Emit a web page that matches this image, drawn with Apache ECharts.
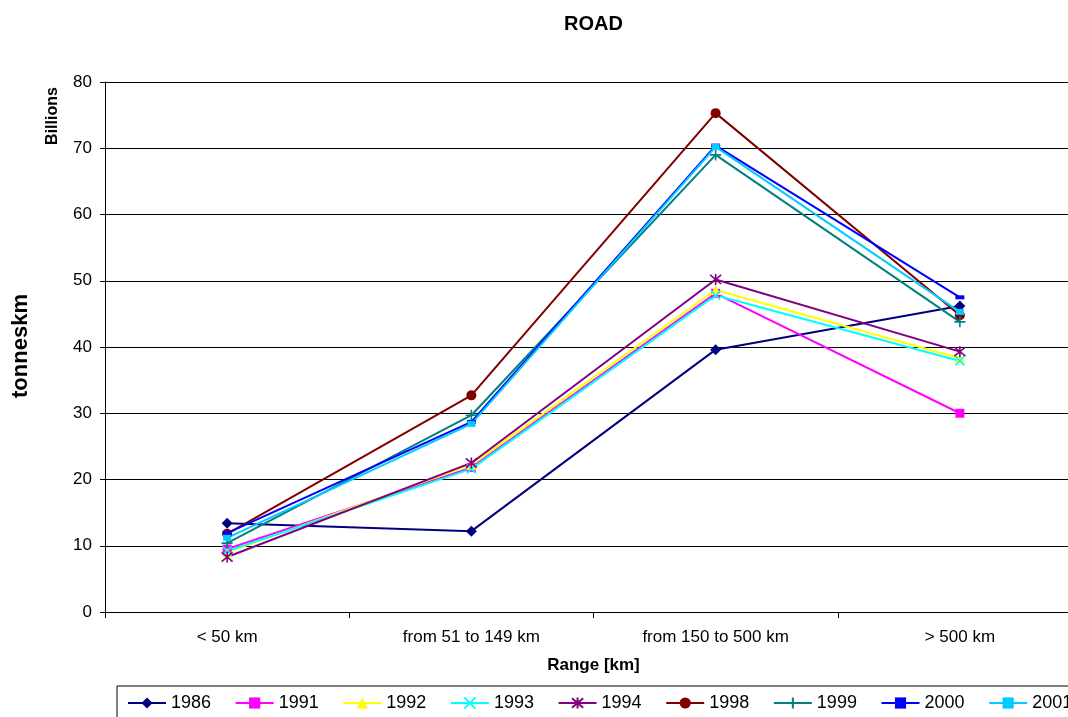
<!DOCTYPE html>
<html>
<head>
<meta charset="utf-8">
<script src="https://cdn.jsdelivr.net/npm/echarts@6/dist/echarts.min.js"></script>
<style>
  html, body { margin: 0; padding: 0; background: #fff; }
  #chart { width: 1068px; height: 717px; }
</style>
</head>
<body>
<div id="chart"></div>
<script>
// Road freight by distance band, billions of tonne-km
const categories = ['< 50 km', 'from 51 to 149 km', 'from 150 to 500 km', '> 500 km'];
const years = ['1986', '1991', '1992', '1993', '1994', '1998', '1999', '2000', '2001'];
const y1986 = [13.4, 12.2, 39.6, 46.2];
const y1991 = [9.5, 21.8, 48.1, 30.0];
const y1992 = [9.0, 22.2, 48.6, 38.3];
const y1993 = [9.2, 21.6, 47.8, 37.9];
const y1994 = [8.3, 22.5, 50.2, 39.3];
const y1998 = [11.8, 32.7, 75.3, 44.8];
const y1999 = [10.4, 29.7, 69.0, 43.8];
const y2000 = [11.9, 28.7, 70.4, 47.5];
const y2001 = [11.2, 28.4, 70.2, 45.3];
const yTicks = [0, 10, 20, 30, 40, 50, 60, 70, 80];

const FONT = 'Liberation Sans, Arial, Helvetica, sans-serif';

const X_PATH = 'path://M0,0L10,10M10,0L0,10';
const STAR_PATH = 'path://M0,0L10,10M10,0L0,10M5,-1L5,11';
const PLUS_PATH = 'path://M5,0L5,10M0,5L10,5';

const styles = [
  { data: y1986, color: '#000080', symbol: 'diamond', size: 11, stroke: false },
  { data: y1991, color: '#FF00FF', symbol: 'rect', size: 9, stroke: false },
  { data: y1992, color: '#FFFF00', symbol: 'triangle', size: 10, stroke: false },
  { data: y1993, color: '#00FFFF', symbol: X_PATH, size: 9, stroke: true },
  { data: y1994, color: '#800080', symbol: STAR_PATH, size: 11, stroke: true },
  { data: y1998, color: '#800000', symbol: 'circle', size: 10, stroke: false },
  { data: y1999, color: '#008080', symbol: PLUS_PATH, size: 11, stroke: true },
  { data: y2000, color: '#0000FF', symbol: 'rect', size: [9, 4], stroke: false },
  { data: y2001, color: '#00CCFF', symbol: 'rect', size: [8, 6], stroke: false }
];

const series = years.map((name, i) => {
  const s = styles[i];
  return {
    name: name,
    type: 'line',
    data: s.data,
    symbol: s.symbol,
    symbolSize: s.size,
    showAllSymbol: true,
    lineStyle: { color: s.color, width: 2 },
    itemStyle: s.stroke
      ? { color: s.color, borderColor: s.color, borderWidth: 1.6 }
      : { color: s.color, borderWidth: 0 },
    emphasis: { disabled: true },
    animation: false
  };
});

const chart = echarts.init(document.getElementById('chart'), null, { renderer: 'canvas' });
chart.setOption({
  backgroundColor: '#fff',
  animation: false,
  textStyle: { fontFamily: FONT, color: '#000' },
  title: {
    text: 'ROAD',
    left: 559,
    top: 9,
    textStyle: { fontFamily: FONT, fontSize: 20, fontWeight: 'bold', color: '#000' }
  },
  grid: {
    left: 105,
    top: 82,
    right: -14,
    bottom: 105,
    containLabel: false,
    outerBoundsMode: 'none'
  },
  legend: {
    data: years,
    left: 117,
    top: 686,
    width: 1100,
    orient: 'horizontal',
    padding: [8, 10, 12, 10],
    itemWidth: 38,
    itemHeight: 14,
    itemGap: 23.6,
    borderColor: '#000',
    borderWidth: 1,
    borderRadius: 0,
    textStyle: { fontFamily: FONT, fontSize: 18, color: '#000', padding: [0, 0, 0, 0] },
    selectedMode: false
  },
  xAxis: {
    type: 'category',
    data: categories,
    boundaryGap: true,
    name: 'Range [km]',
    nameLocation: 'middle',
    nameGap: 45,
    nameTextStyle: { fontFamily: FONT, fontSize: 17, fontWeight: 'bold', color: '#000' },
    axisLine: { show: true, lineStyle: { color: '#000', width: 1 } },
    axisTick: { show: true, alignWithLabel: false, length: 6, lineStyle: { color: '#000' } },
    axisLabel: { fontFamily: FONT, fontSize: 17, color: '#000', margin: 17 },
    splitLine: { show: false }
  },
  yAxis: {
    type: 'value',
    min: yTicks[0],
    max: yTicks[yTicks.length - 1],
    interval: 10,
    axisLine: { show: true, lineStyle: { color: '#000', width: 1 } },
    axisTick: { show: true, length: 5, lineStyle: { color: '#000' } },
    axisLabel: { fontFamily: FONT, fontSize: 17, color: '#000', margin: 13 },
    splitLine: { show: true, lineStyle: { color: '#000', width: 1 } }
  },
  graphic: [
    {
      type: 'text',
      x: 21,
      y: 346,
      rotation: Math.PI / 2,
      style: {
        text: 'tonneskm',
        font: 'bold 22px ' + FONT,
        fill: '#000',
        align: 'center',
        verticalAlign: 'middle'
      }
    },
    {
      type: 'text',
      x: 53,
      y: 116,
      rotation: Math.PI / 2,
      style: {
        text: 'Billions',
        font: 'bold 16px ' + FONT,
        fill: '#000',
        align: 'center',
        verticalAlign: 'middle'
      }
    }
  ],
  series: series
});
</script>
</body>
</html>
